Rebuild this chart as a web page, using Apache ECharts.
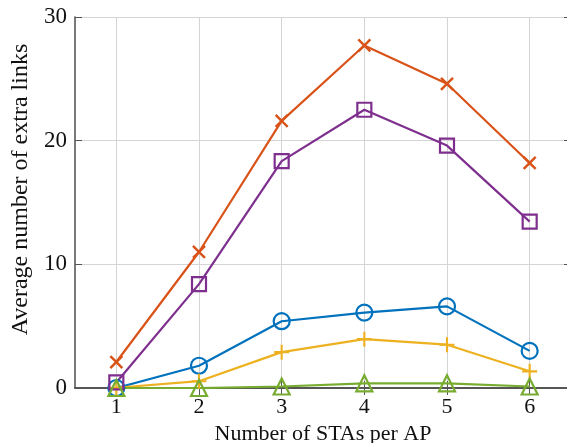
<!DOCTYPE html>
<html>
<head>
<meta charset="utf-8">
<script src="https://cdn.jsdelivr.net/npm/echarts@6/dist/echarts.min.js"></script>
<style>
html,body{margin:0;padding:0;background:#fff;}
#chart{width:567px;height:443px;}
</style>
</head>
<body>
<div id="chart"></div>
<script>
var xValues = [1, 2, 3, 4, 5, 6];
var yTicks = [0, 10, 20, 30];
var seriesNames = ['Series A', 'Series B', 'Series C', 'Series D', 'Series E'];
var blueCircle = [0, 1.8, 5.4, 6.1, 6.6, 3.0];
var orangeX = [2.1, 11.0, 21.6, 27.7, 24.6, 18.2];
var yellowPlus = [0.02, 0.55, 2.9, 3.95, 3.5, 1.35];
var purpleSquare = [0.45, 8.4, 18.35, 22.5, 19.6, 13.45];
var greenTriangle = [0, 0, 0.12, 0.38, 0.38, 0.12];

var colors = ['#0072BD', '#D95319', '#EDB120', '#7E2F8E', '#77AC30'];
var plusPath = 'path://M6,0H8V6H14V8H8V14H6V8H0V6H6Z';
var FONT = '"Liberation Serif", "Times New Roman", serif';

function pairs(vals) { return xValues.map(function (x, i) { return [x, vals[i]]; }); }

function mk(name, vals, color, symbol, size, rotate) {
  var isPath = symbol.indexOf('path') === 0;
  return {
    name: name, type: 'line', data: pairs(vals),
    symbol: symbol, symbolSize: size, symbolRotate: rotate || 0,
    showAllSymbol: true,
    lineStyle: { color: color, width: 2.2 },
    itemStyle: isPath ? { color: color, borderWidth: 0 } : { color: 'rgba(255,255,255,0)', borderColor: color, borderWidth: 2.2 },
    emphasis: { disabled: true },
    animation: false, z: 3
  };
}

var chart = echarts.init(document.getElementById('chart'));
var axisLineStyle = { color: '#4d4d4d', width: 1.5 };
var gridLineStyle = { color: '#d4d4d4', width: 1 };
chart.setOption({
  animation: false,
  textStyle: { fontFamily: FONT },
  grid: { left: 75, top: 17, width: 496, height: 371, containLabel: false, outerBoundsMode: 'none' },
  xAxis: [{
    type: 'value', min: 0.5, max: 6.5,
    name: 'Number of STAs per AP', nameLocation: 'middle', nameGap: 35,
    nameTextStyle: { fontFamily: FONT, fontSize: 22, color: '#111' },
    axisLine: { show: true, lineStyle: axisLineStyle },
    axisTick: { show: true, inside: true, length: 7, customValues: xValues, lineStyle: { color: '#555' } },
    axisLabel: { customValues: xValues, fontFamily: FONT, fontSize: 22, color: '#111', margin: 8 },
    splitLine: { show: true, lineStyle: gridLineStyle }
  }, {
    type: 'value', min: 0.5, max: 6.5, position: 'top',
    axisLine: { show: true, lineStyle: axisLineStyle },
    axisTick: { show: true, inside: true, length: 7, customValues: xValues, lineStyle: { color: '#555' } },
    axisLabel: { show: false },
    splitLine: { show: false }
  }],
  yAxis: [{
    type: 'value', min: 0, max: 30, interval: 10,
    name: 'Average number of extra links', nameLocation: 'middle', nameGap: 41,
    nameTextStyle: { fontFamily: FONT, fontSize: 24, color: '#111', padding: [0, 0, 0, 26] },
    axisLine: { show: true, lineStyle: axisLineStyle },
    axisTick: { show: true, inside: true, length: 7, lineStyle: { color: '#555' } },
    axisLabel: { fontFamily: FONT, fontSize: 23, color: '#111', margin: 8,
      formatter: function (v) { return yTicks.indexOf(v) >= 0 ? String(v) : ''; } },
    splitLine: { show: true, lineStyle: gridLineStyle }
  }, {
    type: 'value', min: 0, max: 30, interval: 10, position: 'right',
    axisLine: { show: true, lineStyle: axisLineStyle },
    axisTick: { show: true, inside: true, length: 7, lineStyle: { color: '#555' } },
    axisLabel: { show: false },
    splitLine: { show: false }
  }],
  series: [
    mk(seriesNames[0], blueCircle, colors[0], 'circle', 16),
    mk(seriesNames[1], orangeX, colors[1], plusPath, 17, 45),
    mk(seriesNames[2], yellowPlus, colors[2], plusPath, 15),
    mk(seriesNames[3], purpleSquare, colors[3], 'rect', 14),
    mk(seriesNames[4], greenTriangle, colors[4], 'triangle', 16)
  ]
});
</script>
</body>
</html>
